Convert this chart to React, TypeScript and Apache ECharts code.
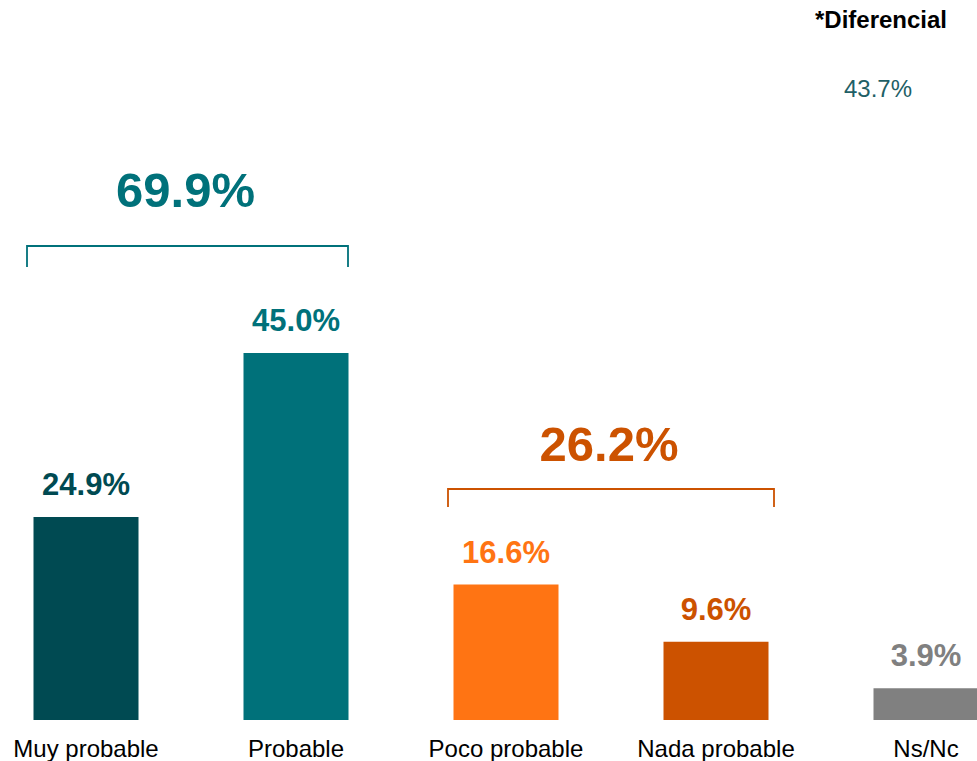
import React, { useEffect, useRef } from "react";
import * as echarts from "echarts";

const categories = ["Muy probable", "Probable", "Poco probable", "Nada probable", "Ns/Nc"];
const values = [24.9, 45.0, 16.6, 9.6, 3.9];
const barColors = ["#004a52", "#00717a", "#ff7413", "#cc5200", "#808080"];
const groupTotals = [69.9, 26.2];
const groupColors = ["#00717a", "#cc5200"];
const groupRanges = [[0, 1], [2, 3]];
const differentialTitle = "*Diferencial";
const differentialValue = 43.7;

export default function App() {
  const ref = useRef<HTMLDivElement>(null);
  useEffect(() => {
    if (!ref.current) return;
    const chart = echarts.init(ref.current, null, { renderer: "svg" });
    const font = "'Liberation Sans', Arial, sans-serif";
    const option: any = {
      animation: false,
      grid: { left: -19, top: 67.5, width: 1050, bottom: 41, containLabel: false, outerBoundsMode: "none" },
      xAxis: {
        type: "category",
        data: categories,
        axisLine: { show: false },
        axisTick: { show: false },
        axisLabel: {
          color: "#000",
          fontSize: 24,
          fontFamily: font,
          margin: 16,
          interval: 0,
        },
      },
      yAxis: { type: "value", min: 0, max: 80, show: false, splitLine: { show: false } },
      series: [
        {
          type: "bar",
          barWidth: 105,
          data: values.map((v, i) => ({
            value: v,
            itemStyle: { color: barColors[i] },
            label: { color: barColors[i] },
          })),
          label: {
            show: true,
            position: "top",
            distance: 17,
            fontSize: 31,
            fontWeight: "bold",
            fontFamily: font,
            formatter: (p: any) => p.value.toFixed(1) + "%",
          },
        },
      ],
    };
    chart.setOption(option);

    const bracketY = [246, 489];
    const bracketDrop = [21, 18];
    const textY = [190, 444];
    const leftPad = [59, 58];
    const rightPad = [52, 58];
    const graphics: any[] = [];
    groupRanges.forEach((r, gi) => {
      const x0 = chart.convertToPixel({ xAxisIndex: 0 }, categories[r[0]]) as number;
      const x1 = chart.convertToPixel({ xAxisIndex: 0 }, categories[r[1]]) as number;
      const L = x0 - leftPad[gi];
      const R = x1 + rightPad[gi];
      const y = bracketY[gi];
      graphics.push({
        type: "polyline",
        shape: {
          points: [
            [L, y + bracketDrop[gi]],
            [L, y],
            [R, y],
            [R, y + bracketDrop[gi]],
          ],
        },
        style: { stroke: groupColors[gi], lineWidth: 1.8, fill: "none" },
      });
      graphics.push({
        type: "text",
        x: (L + R) / 2 - 2,
        y: textY[gi],
        style: {
          text: groupTotals[gi].toFixed(1) + "%",
          fill: groupColors[gi],
          font: `bold 49px ${font}`,
          align: "center",
          verticalAlign: "middle",
        },
      });
    });
    graphics.push({
      type: "text",
      x: 881,
      y: 19,
      style: {
        text: differentialTitle,
        fill: "#000",
        font: `bold 24px ${font}`,
        align: "center",
        verticalAlign: "middle",
      },
    });
    graphics.push({
      type: "text",
      x: 878,
      y: 88,
      style: {
        text: differentialValue.toFixed(1) + "%",
        fill: "#1f5f66",
        font: `24px ${font}`,
        align: "center",
        verticalAlign: "middle",
      },
    });
    chart.setOption({ graphic: graphics });
    return () => chart.dispose();
  }, []);
  return (
    <div
      ref={ref}
      style={{ position: "fixed", left: 0, top: 0, width: 977, height: 761, background: "#fff" }}
    />
  );
}
